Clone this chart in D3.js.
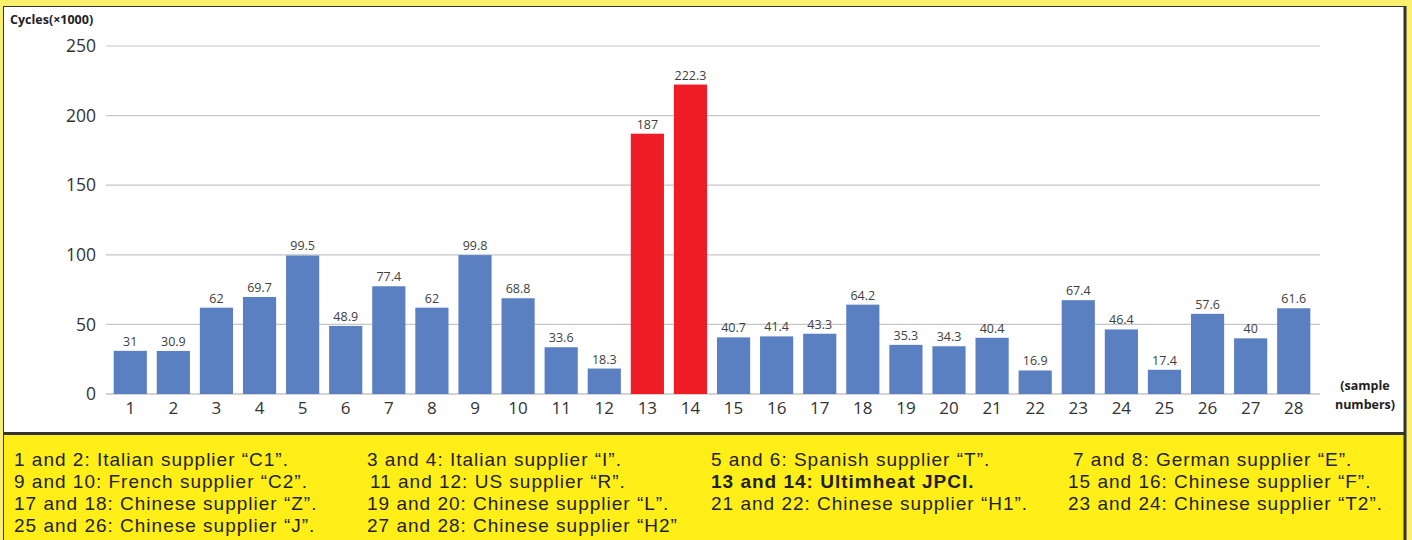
<!DOCTYPE html>
<html>
<head>
<meta charset="utf-8">
<script src="https://cdn.jsdelivr.net/npm/d3@7"></script>
<style>
  body { margin: 0; background: #fbf06e; }
  svg { display: block; }
</style>
</head>
<body>
<div id="chart"></div>
<script>
// sample numbers and measured cycles (x1000)
var samples = d3.range(1, 29);
var cycles = [31, 30.9, 62, 69.7, 99.5, 48.9, 77.4, 62, 99.8, 68.8, 33.6, 18.3, 187, 222.3,
  40.7, 41.4, 43.3, 64.2, 35.3, 34.3, 40.4, 16.9, 67.4, 46.4, 17.4, 57.6, 40, 61.6];
var highlighted = [13, 14];
var yTicks = [0, 50, 100, 150, 200, 250];

// legend columns (one list per column)
var legendCol1 = ["1 and 2: Italian supplier \u201cC1\u201d.", "9 and 10: French supplier \u201cC2\u201d.",
  "17 and 18: Chinese supplier \u201cZ\u201d.", "25 and 26: Chinese supplier \u201cJ\u201d."];
var legendCol2 = ["3 and 4: Italian supplier \u201cI\u201d.", "11 and 12: US supplier \u201cR\u201d.",
  "19 and 20: Chinese supplier \u201cL\u201d.", "27 and 28: Chinese supplier \u201cH2\u201d"];
var legendCol3 = ["5 and 6: Spanish supplier \u201cT\u201d.", "13 and 14: Ultimheat JPCI.",
  "21 and 22: Chinese supplier \u201cH1\u201d."];
var legendCol4 = ["7 and 8: German supplier \u201cE\u201d.", "15 and 16: Chinese supplier \u201cF\u201d.",
  "23 and 24: Chinese supplier \u201cT2\u201d."];
var boldLine = "13 and 14: Ultimheat JPCI.";

var W = 1412, H = 540;
var svg = d3.select("#chart").append("svg")
  .attr("width", W)
  .attr("height", H);

// background panels
svg.append("rect").attr("x", 0).attr("y", 0).attr("width", W).attr("height", H).attr("fill", "#fbf06e");
svg.append("rect").attr("x", 3.5).attr("y", 6.5).attr("width", 1402).attr("height", 427)
  .attr("fill", "#ffffff").attr("stroke", "#333").attr("stroke-width", 1);
svg.append("rect").attr("x", 3.5).attr("y", 434).attr("width", 1402).attr("height", 110)
  .attr("fill", "#ffee17").attr("stroke", "#333").attr("stroke-width", 1);
svg.append("line").attr("x1", 1405).attr("x2", 1405).attr("y1", 6).attr("y2", 540)
  .attr("stroke", "#333").attr("stroke-width", 3);
svg.append("line").attr("x1", 3).attr("x2", 1406).attr("y1", 433.5).attr("y2", 433.5)
  .attr("stroke", "#333").attr("stroke-width", 3);

var x = d3.scaleBand()
  .domain(samples)
  .range([108.5, 1315.5])
  .paddingInner(0.23)
  .paddingOuter(0.12);

var y = d3.scaleLinear()
  .domain([0, 250])
  .range([394, 46]);

// gridlines
svg.append("g").selectAll("line")
  .data(yTicks)
  .enter()
  .append("line")
  .attr("x1", 106)
  .attr("x2", 1320)
  .attr("y1", d => y(d))
  .attr("y2", d => y(d))
  .attr("stroke", "#c6c6c6")
  .attr("stroke-width", d => d === 0 ? 1.5 : 1.2);

// y axis labels
var leftAxis = d3.axisLeft(y).tickValues(yTicks).tickSize(0).tickPadding(0);
var yAxis = svg.append("g")
  .attr("transform", "translate(96,0)")
  .call(leftAxis);
yAxis.select(".domain").remove();
yAxis.selectAll("text")
  .attr("font-family", "'Open Sans', sans-serif")
  .attr("font-size", 17.5)
  .attr("fill", "#333");

// x axis labels
var bottomAxis = d3.axisBottom(x).tickSize(0).tickPadding(0);
var xAxis = svg.append("g")
  .attr("transform", "translate(0,402)")
  .call(bottomAxis);
xAxis.select(".domain").remove();
xAxis.selectAll("text")
  .attr("font-family", "'Open Sans', sans-serif")
  .attr("font-size", 17)
  .attr("fill", "#333");

// bars
svg.append("g").selectAll("rect")
  .data(cycles)
  .enter()
  .append("rect")
  .attr("x", (d, i) => x(samples[i]))
  .attr("y", d => y(d))
  .attr("width", x.bandwidth())
  .attr("height", d => y(0) - y(d))
  .attr("fill", (d, i) => highlighted.includes(samples[i]) ? "#ee1c25" : "#5b80c2");

// value labels
svg.append("g").selectAll("text")
  .data(cycles)
  .enter()
  .append("text")
  .attr("x", (d, i) => x(samples[i]) + x.bandwidth() / 2)
  .attr("y", d => y(d) - 5)
  .attr("text-anchor", "middle")
  .attr("font-family", "'Open Sans', sans-serif")
  .attr("font-size", 12.5)
  .attr("fill", "#404040")
  .text(d => d);

// axis titles
svg.append("text")
  .attr("x", 10).attr("y", 24)
  .attr("font-family", "'Open Sans', sans-serif")
  .attr("font-size", 12.5)
  .attr("font-weight", "bold")
  .attr("fill", "#222")
  .text("Cycles(\u00d71000)");

var sn = svg.append("text")
  .attr("font-family", "'Open Sans', sans-serif")
  .attr("font-size", 12.5)
  .attr("font-weight", "bold")
  .attr("fill", "#222")
  .attr("text-anchor", "middle");
sn.append("tspan").attr("x", 1365).attr("y", 390).text("(sample");
sn.append("tspan").attr("x", 1365).attr("y", 409).text("numbers)");

// legend
var legendCols = [
  { lines: legendCol1, x: [14, 14, 14, 14] },
  { lines: legendCol2, x: [367, 370, 367, 367] },
  { lines: legendCol3, x: [711, 711, 711] },
  { lines: legendCol4, x: [1073, 1068, 1068] }
];
legendCols.forEach(function(col) {
  svg.append("g").selectAll("text")
    .data(col.lines)
    .enter()
    .append("text")
    .attr("x", (d, i) => col.x[i])
    .attr("y", (d, i) => 466 + i * 22)
    .attr("font-family", "'Liberation Sans', Arial, sans-serif")
    .attr("font-size", 19)
    .attr("letter-spacing", 1)
    .attr("font-weight", d => d === boldLine ? "bold" : "normal")
    .attr("fill", "#231f20")
    .text(d => d);
});
</script>
</body>
</html>
